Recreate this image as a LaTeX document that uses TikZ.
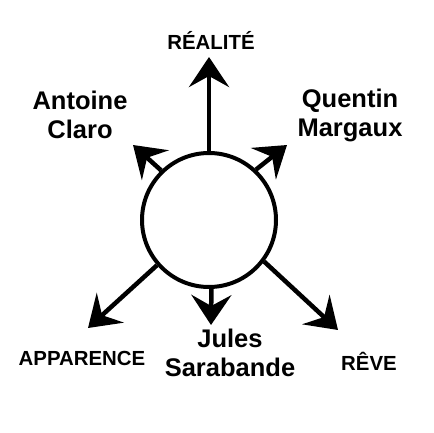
\documentclass[tikz,border=0pt]{standalone}
\usepackage{fontspec}
\setmainfont{Liberation Sans}[BoldFont={Liberation Sans Bold}]
\usetikzlibrary{arrows.meta}

\tikzset{
	fleche/.style={line width=4.5pt, -{Stealth[length=30pt, width=40pt, inset=11pt]}},
	grandNom/.style={font=\bfseries\fontsize{25.5}{29}\selectfont, align=center, inner sep=0pt},
	petitNom/.style={font=\bfseries\fontsize{20.4}{24}\selectfont, inner sep=0pt}
}

\begin{document}
\begin{tikzpicture}[x=1pt, y=-1pt]

	\useasboundingbox (0,0) rectangle (433,433);

	\def \rayon{67};

	\node[draw, circle, line width=4pt, minimum size=2*\rayon pt, inner sep=0pt] (cercle) at (209,220) {};

	% pointes des fleches
	\coordinate (tipRealite) at (209,57);
	\coordinate (tipAntoine) at (133,145);
	\coordinate (tipQuentin) at (287,145);
	\coordinate (tipApparence) at (88,328);
	\coordinate (tipJules) at (211,325);
	\coordinate (tipReve) at (338,330);

	\draw[fleche] (cercle.90) -- (tipRealite);
	\draw[fleche] (cercle.134) -- (tipAntoine);
	\draw[fleche] (cercle.47) -- (tipQuentin);
	\draw[fleche] (cercle.221) -- (tipApparence);
	\draw[fleche] (cercle.272) -- (tipJules);
	\draw[fleche] (cercle.323) -- (tipReve);

	% etiquettes
	\node[petitNom, anchor=base] (realite) at (211,50) {RÉALITÉ};
	\node[grandNom, anchor=north] (antoine) at (80,91) {Antoine\\Claro};
	\node[grandNom, anchor=north] (quentin) at (350,89) {Quentin\\Margaux};
	\node[petitNom, anchor=base] (apparence) at (82,365) {APPARENCE};
	\node[grandNom, anchor=north] (jules) at (230,329) {Jules\\Sarabande};
	\node[petitNom, anchor=base] (reve) at (369,370) {RÊVE};

\end{tikzpicture}
\end{document}
